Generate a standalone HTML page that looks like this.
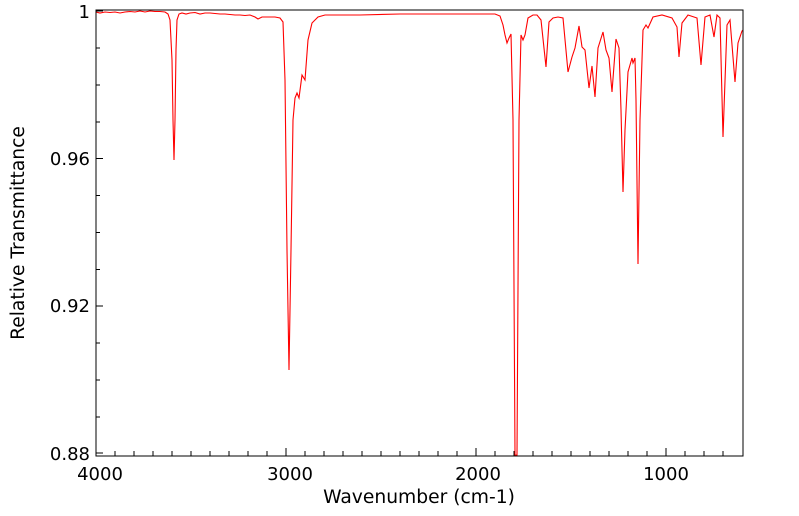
<!DOCTYPE html>
<html><head><style>body{margin:0;background:#fff}svg{display:block}text{font-family:"DejaVu Sans","Liberation Sans",sans-serif;fill:#000}</style></head>
<body>
<svg width="799" height="516" viewBox="0 0 799 516">
<defs><clipPath id="c"><rect x="96" y="10" width="647" height="446"/></clipPath></defs>
<g clip-path="url(#c)">
<polyline fill="none" stroke="#ff0000" stroke-width="1.1" points="96,12 100,13 105,12 110,12.5 115,12 120,13 125,12 130,11.5 135,12 140,11 145,12 150,11 155,11.5 160,11.5 165,12 168,14 170,20 172,60 173,120 174,160 175,120 176,50 177,20 179,14 182,13 186,14 190,13 195,12.5 200,14 205,13 210,13 215,13.5 220,14 225,14 230,14.5 235,15 240,15 245,15.5 250,15 255,17 258,19 262,17 266,17 270,17 275,17 280,18 283,22 285,80 287,250 289,370 291,250 293,120 295,98 297,93 299,98 302,75 305,80 308,40 312,23 318,17 325,15 330,15 360,15 400,14 440,14 480,14 495,14 500,16 503,25 505,35 507,43 509,38 511,34 513,120 515,455 517,455 519,120 521,35 523,40 525,35 528,18 533,15 537,15 541,20 546,67 549,22 553,18 558,17 563,18 568,72 572,57 575,48 579,26 582,47 585,50 589,88 592,66 595,97 598,48 603,32 606,50 609,58 612,92 616,39 619,48 621,110 623,192 625,130 628,72 632,58 633,63 635,58 636,100 638,264 640,120 643,30 646,25 648,28 653,17 662,15 672,18 677,27 679,57 682,23 688,15 697,18 701,65 705,17 710,15 714,37 717,15 720,18 723,137 727,25 730,20 735,82 738,43 742,31 745,28"/>
</g>
<rect x="96" y="10" width="647" height="446" fill="none" stroke="#000" stroke-width="1"/>
<g stroke="#000" stroke-width="1">
<line x1="96" y1="11" x2="103" y2="11"/><line x1="96" y1="48" x2="100" y2="48"/><line x1="96" y1="85" x2="100" y2="85"/><line x1="96" y1="122" x2="100" y2="122"/>
<line x1="96" y1="158.5" x2="103" y2="158.5"/><line x1="96" y1="195.5" x2="100" y2="195.5"/><line x1="96" y1="232.5" x2="100" y2="232.5"/><line x1="96" y1="269.5" x2="100" y2="269.5"/>
<line x1="96" y1="306" x2="103" y2="306"/><line x1="96" y1="343" x2="100" y2="343"/><line x1="96" y1="380" x2="100" y2="380"/><line x1="96" y1="417" x2="100" y2="417"/>
<line x1="96" y1="453" x2="103" y2="453"/>
<line x1="115" y1="456" x2="115" y2="451"/><line x1="134" y1="456" x2="134" y2="451"/><line x1="153" y1="456" x2="153" y2="451"/><line x1="172" y1="456" x2="172" y2="451"/><line x1="191" y1="456" x2="191" y2="451"/><line x1="210" y1="456" x2="210" y2="451"/><line x1="229" y1="456" x2="229" y2="451"/><line x1="248" y1="456" x2="248" y2="451"/><line x1="267" y1="456" x2="267" y2="451"/>
<line x1="286" y1="456" x2="286" y2="448"/>
<line x1="305" y1="456" x2="305" y2="451"/><line x1="324" y1="456" x2="324" y2="451"/><line x1="343" y1="456" x2="343" y2="451"/><line x1="362" y1="456" x2="362" y2="451"/><line x1="381" y1="456" x2="381" y2="451"/><line x1="400" y1="456" x2="400" y2="451"/><line x1="419" y1="456" x2="419" y2="451"/><line x1="438" y1="456" x2="438" y2="451"/><line x1="457" y1="456" x2="457" y2="451"/>
<line x1="476" y1="456" x2="476" y2="448"/>
<line x1="495" y1="456" x2="495" y2="451"/><line x1="514" y1="456" x2="514" y2="451"/><line x1="533" y1="456" x2="533" y2="451"/><line x1="552" y1="456" x2="552" y2="451"/><line x1="571" y1="456" x2="571" y2="451"/><line x1="590" y1="456" x2="590" y2="451"/><line x1="609" y1="456" x2="609" y2="451"/><line x1="628" y1="456" x2="628" y2="451"/><line x1="647" y1="456" x2="647" y2="451"/>
<line x1="666" y1="456" x2="666" y2="448"/>
<line x1="685" y1="456" x2="685" y2="451"/><line x1="704" y1="456" x2="704" y2="451"/><line x1="723" y1="456" x2="723" y2="451"/>
</g>
<g font-size="18" text-anchor="end">
<text x="90" y="18">1</text><text x="90" y="165">0.96</text><text x="90" y="312">0.92</text><text x="90" y="460">0.88</text>
</g>
<g font-size="18" text-anchor="middle">
<text x="100" y="480">4000</text><text x="290" y="480">3000</text><text x="478" y="480">2000</text><text x="666" y="480">1000</text>
</g>
<text font-size="18.7" text-anchor="middle" x="419" y="503">Wavenumber (cm-1)</text>
<text font-size="18.7" text-anchor="middle" transform="translate(24,233) rotate(-90)">Relative Transmittance</text>
</svg>
</body></html>
